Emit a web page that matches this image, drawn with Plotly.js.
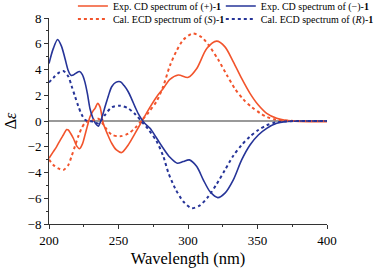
<!DOCTYPE html>
<html>
<head>
<meta charset="utf-8">
<script src="https://cdn.plot.ly/plotly-3.0.1.min.js"></script>
<style>html,body{margin:0;padding:0;background:#fff;}#chart{width:384px;height:273px;}</style>
</head>
<body>
<div id="chart"></div>
<script>
// Exp. CD spectrum of (+)-1
const wlExpPlus = [200,203,205.5,208,210.3,212.7,213.9,215.5,217.5,220,222,224,225.9,227.6,229.5,231.5,233.1,235,236.7,239,242,245.1,248.5,252.3,257,261.9,266.7,271.4,277.5,282.2,287,293,300.2,306.3,313.5,320.6,326.6,332.6,338.6,344.6,350.6,356.6,363.8,370,380,400];
const cdExpPlus = [-2.9,-2.4,-1.99,-1.5,-1.09,-0.66,-0.7,-0.95,-1.34,-1.95,-2.15,-1.8,-1.09,-0.4,0.33,0.75,0.98,1.37,1.1,-0.18,-1.0,-1.73,-2.25,-2.45,-1.86,-0.96,-0.05,0.85,1.89,2.53,3.23,3.57,3.39,4.08,5.63,6.2,5.76,4.6,3.31,2.15,1.24,0.6,0.21,0.05,-0.03,-0.05];

// Exp. CD spectrum of (-)-1
const wlExpMinus = [200,203,206.2,209,211.5,213.9,215.8,217.5,219.5,222,224,225.9,227.6,229.5,231.5,233.5,235.5,237.8,240.3,242.7,245.1,248,251.3,254,257,259.5,261.9,264.3,266.7,269,272.7,277.5,282.2,287,292.3,296.5,301,306.3,311,315.8,321.4,326.6,332.6,338.6,344.6,350.6,356.6,363.8,370,380,400];
const cdExpMinus = [4.47,5.6,6.33,5.8,4.86,3.9,3.55,3.57,3.72,3.84,3.6,3.0,2.14,0.95,0.25,-0.2,-0.4,0.2,1.1,1.95,2.66,3.0,3.05,2.75,2.27,1.7,1.1,0.55,0.13,-0.2,-0.57,-1.34,-2.12,-2.82,-3.28,-3.15,-3.02,-3.54,-4.57,-5.48,-5.95,-5.6,-4.57,-3.02,-1.86,-1.09,-0.57,-0.18,-0.05,0,0];

// Cal. ECD spectrum of (S)-1
const wlCalS = [200,203.1,206.7,210.3,213.9,216.3,218.7,221.1,223.5,225.9,228.5,230.7,233,235.5,238,240.3,245.1,251.1,257,261.9,266.7,271.4,277.5,282.2,287,291.8,296.6,303.4,309.9,315.8,321.8,327.8,333.8,339.8,345.8,351.8,357,363,370,380,400];
const cdCalS = [-3.0,-3.41,-3.68,-3.8,-3.42,-2.72,-1.95,-1.18,-0.55,-0.15,0.0,0.02,0.12,0.18,-0.1,-0.47,-1.06,-1.19,-0.98,-0.54,0.05,0.64,1.55,2.7,4.3,5.45,6.3,6.8,6.5,5.75,4.75,3.6,2.5,1.68,1.08,0.62,0.3,0.12,0.03,0,0];

// Cal. ECD spectrum of (R)-1
const wlCalR = [200,203.1,206.7,210.3,213.9,216.3,218.7,221.1,223.5,225.9,228.5,230.7,233,235.5,238,240.3,245.1,251.1,257,261.9,266.7,271.4,277.5,282.2,285.8,290.6,296.6,302.6,308.6,314.6,320.6,326.6,332.6,338.6,344.6,350.6,356.6,363,370,380,400];
const cdCalR = [3.0,3.35,3.72,3.88,3.45,2.7,1.92,1.14,0.5,0.1,-0.02,-0.02,-0.12,-0.18,0.1,0.47,1.06,1.19,0.98,0.54,-0.05,-0.64,-1.6,-2.73,-4.0,-5.2,-6.25,-6.77,-6.55,-5.87,-4.9,-3.8,-2.7,-1.86,-1.2,-0.7,-0.33,-0.12,-0.03,0,0];

const xTicks = [200,250,300,350,400];
const yTicks = [-8,-6,-4,-2,0,2,4,6,8];

const RED = 'rgb(242,84,44)';
const BLUE = 'rgb(38,52,152)';
const SERIF = 'Liberation Serif';

const traces = [
  {x: wlExpPlus, y: cdExpPlus, mode: 'lines', name: 'Exp. CD spectrum of (+)-<b>1</b>',
   line: {color: RED, width: 1.6, shape: 'spline', smoothing: 0.8}, legend: 'legend'},
  {x: wlExpMinus, y: cdExpMinus, mode: 'lines', name: 'Exp. CD spectrum of (\u2212)-<b>1</b>',
   line: {color: BLUE, width: 1.6, shape: 'spline', smoothing: 0.8}, legend: 'legend2'},
  {x: wlCalS, y: cdCalS, mode: 'lines', name: 'Cal. ECD spectrum of (<i>S</i>)-<b>1</b>',
   line: {color: RED, width: 2, dash: 'dot', shape: 'spline', smoothing: 0.8}, legend: 'legend3'},
  {x: wlCalR, y: cdCalR, mode: 'lines', name: 'Cal. ECD spectrum of (<i>R</i>)-<b>1</b>',
   line: {color: BLUE, width: 2, dash: 'dot', shape: 'spline', smoothing: 0.8}, legend: 'legend4'}
];

function legendAt(x, y) {
  return {
    orientation: 'v', xanchor: 'left', yanchor: 'middle', x: x, y: y,
    font: {family: SERIF, size: 10, color: '#000'},
    bgcolor: 'rgba(0,0,0,0)', borderwidth: 0, itemwidth: 30
  };
}

const layout = {
  width: 384, height: 273,
  margin: {l: 49, r: 57, t: 18, b: 49, pad: 0, autoexpand: false},
  paper_bgcolor: '#fff', plot_bgcolor: '#fff',
  font: {family: SERIF, size: 13, color: '#000'},
  showlegend: true,
  legend: legendAt(0.086, 1.058),
  legend2: legendAt(0.618, 1.058),
  legend3: legendAt(0.086, 0.995),
  legend4: legendAt(0.618, 0.995),
  xaxis: {
    range: [200, 400], tickvals: xTicks, ticktext: xTicks.map(String),
    ticks: 'outside', ticklen: 4, tickcolor: '#333', tickwidth: 1,
    minor: {dtick: 25, ticks: 'outside', ticklen: 2, tickcolor: '#333', showgrid: false},
    showline: true, linecolor: '#333', linewidth: 1, mirror: false,
    showgrid: false, zeroline: false,
    tickfont: {family: SERIF, size: 13, color: '#000'},
    title: {text: 'Wavelength (nm)', font: {family: SERIF, size: 16.5, color: '#000'}, standoff: 5}
  },
  yaxis: {
    range: [-8, 8], tickvals: yTicks, ticktext: yTicks.map(v => v < 0 ? '\u2212' + Math.abs(v) : String(v)),
    ticks: 'outside', ticklen: 4, tickcolor: '#333', tickwidth: 1,
    minor: {dtick: 1, ticks: 'outside', ticklen: 2, tickcolor: '#333', showgrid: false},
    showline: true, linecolor: '#333', linewidth: 1, mirror: false,
    showgrid: false, zeroline: true, zerolinecolor: '#999', zerolinewidth: 2,
    tickfont: {family: SERIF, size: 13, color: '#000'},
    title: {text: '\u0394<i>\u03b5</i>', font: {family: SERIF, size: 16, color: '#000'}, standoff: 6}
  }
};

Plotly.newPlot('chart', traces, layout, {displayModeBar: false, staticPlot: true});
</script>
</body>
</html>
